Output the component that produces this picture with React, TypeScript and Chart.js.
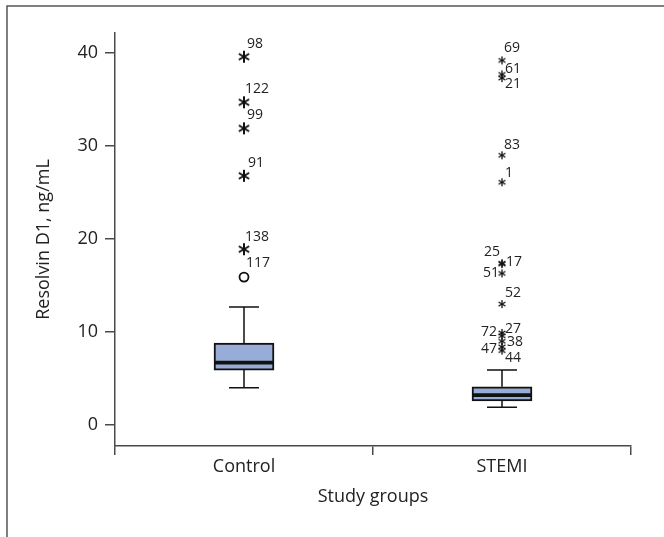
import { useEffect, useRef } from 'react';
import { Chart, registerables } from 'chart.js';

Chart.register(...registerables);

// ---------- data ----------
const categories = ['Control', 'STEMI'];
const whiskerLow = [4.0, 1.9];
const q1 = [5.9, 2.6];
const median = [6.7, 3.2];
const q3 = [8.8, 4.1];
const whiskerHigh = [12.7, 5.9];
const yTickValues = [0, 10, 20, 30, 40];

const controlExtremeIds = ['98', '122', '99', '91', '138'];
const controlExtremeValues = [39.6, 34.7, 31.9, 26.8, 18.9];
const controlOutlierIds = ['117'];
const controlOutlierValues = [15.9];
const stemiExtremeIds = ['69', '61', '21', '83', '1', '25', '17', '51', '52', '27', '72', '38', '47', '44'];
const stemiExtremeValues = [39.2, 37.7, 37.3, 29.0, 26.1, 17.4, 17.3, 16.3, 13.0, 9.9, 9.6, 9.0, 8.4, 8.0];

// ---------- styles ----------
const FONT = "'Open Sans', 'Noto Sans', sans-serif";
const TEXT = '#222';
const AXIS = '#4a4a4a';
const BOX_FILL = '#97acd6';
// label placement: [dx, dy, align]
const controlLabelPlacement: [number, number, CanvasTextAlign][] = [
  [3, -13, 'left'], [1, -13, 'left'], [3, -13, 'left'], [4, -13, 'left'], [1, -12, 'left'],
];
const controlOutlierLabelPlacement: [number, number, CanvasTextAlign][] = [[2, -14, 'left']];
const stemiLabelPlacement: [number, number, CanvasTextAlign][] = [
  [2, -12, 'left'], [3, -5, 'left'], [3, 6, 'left'], [2, -10, 'left'], [3, -9, 'left'],
  [-2, -11, 'right'], [4, -2, 'left'], [-3, 0, 'right'], [3, -11, 'left'], [3, -4, 'left'],
  [-5, -4, 'right'], [5, 1, 'left'], [-5, 2, 'right'], [3, 7, 'left'],
];

function makeAsterisk(size: number, lw: number): HTMLCanvasElement {
  const c = document.createElement('canvas');
  const pad = 2;
  c.width = size + pad * 2;
  c.height = size + pad * 2;
  const ctx = c.getContext('2d')!;
  const cx = c.width / 2;
  const cy = c.height / 2;
  const r = size / 2;
  ctx.strokeStyle = '#111';
  ctx.lineWidth = lw;
  ctx.lineCap = 'butt';
  const angles = [90, 30, 150];
  for (const a of angles) {
    const rad = (a * Math.PI) / 180;
    ctx.beginPath();
    ctx.moveTo(cx - r * Math.cos(rad), cy - r * Math.sin(rad));
    ctx.lineTo(cx + r * Math.cos(rad), cy + r * Math.sin(rad));
    ctx.stroke();
  }
  return c;
}

export default function App() {
  const ref = useRef<HTMLCanvasElement | null>(null);

  useEffect(() => {
    if (!ref.current) return;
    const bigStar = makeAsterisk(12, 2);
    const smallStar = makeAsterisk(8, 1.3);

    const framePlugin = {
      id: 'frame',
      beforeDraw(chart: any) {
        const ctx = chart.ctx;
        ctx.save();
        ctx.fillStyle = '#fff';
        ctx.fillRect(0, 0, chart.width, chart.height);
        ctx.strokeStyle = '#555';
        ctx.lineWidth = 1.5;
        ctx.beginPath();
        ctx.moveTo(7, chart.height);
        ctx.lineTo(7, 6);
        ctx.lineTo(chart.width, 6);
        ctx.stroke();
        ctx.restore();
      },
    };

    const boxPlugin = {
      id: 'boxparts',
      afterDatasetsDraw(chart: any) {
        const ctx = chart.ctx;
        const xs = chart.scales.x;
        const ys = chart.scales.y;
        const meta = chart.getDatasetMeta(0);
        ctx.save();
        ctx.strokeStyle = '#111';
        categories.forEach((_, i) => {
          const x = xs.getPixelForValue(i);
          const bar = meta.data[i];
          const half = bar ? bar.width / 2 : 30;
          const cap = half / 2;
          ctx.lineWidth = 1.5;
          ctx.beginPath();
          ctx.moveTo(x, ys.getPixelForValue(q3[i]));
          ctx.lineTo(x, ys.getPixelForValue(whiskerHigh[i]));
          ctx.moveTo(x, ys.getPixelForValue(q1[i]));
          ctx.lineTo(x, ys.getPixelForValue(whiskerLow[i]));
          ctx.moveTo(x - cap, ys.getPixelForValue(whiskerHigh[i]));
          ctx.lineTo(x + cap, ys.getPixelForValue(whiskerHigh[i]));
          ctx.moveTo(x - cap, ys.getPixelForValue(whiskerLow[i]));
          ctx.lineTo(x + cap, ys.getPixelForValue(whiskerLow[i]));
          ctx.stroke();
          ctx.lineWidth = 3.8;
          ctx.beginPath();
          ctx.moveTo(x - half, ys.getPixelForValue(median[i]));
          ctx.lineTo(x + half, ys.getPixelForValue(median[i]));
          ctx.stroke();
        });
        ctx.restore();
      },
    };

    const labelPlugin = {
      id: 'outlierLabels',
      afterDatasetsDraw(chart: any) {
        const ctx = chart.ctx;
        ctx.save();
        ctx.fillStyle = TEXT;
        ctx.font = `14px ${FONT}`;
        ctx.textBaseline = 'middle';
        chart.data.datasets.forEach((ds: any, di: number) => {
          if (!ds.outlierIds) return;
          const meta = chart.getDatasetMeta(di);
          meta.data.forEach((pt: any, j: number) => {
            const [dx, dy, align] = ds.placement[j];
            ctx.textAlign = align;
            ctx.fillText(ds.outlierIds[j], pt.x + dx, pt.y + dy);
          });
        });
        ctx.restore();
      },
    };

    const pointDs = (cat: string, values: number[], ids: string[], placement: any, style: any, extra: any = {}) => ({
      type: 'line',
      data: values.map((v) => ({ x: cat, y: v })),
      showLine: false,
      pointStyle: style,
      pointRadius: 4,
      pointHoverRadius: 4,
      borderColor: '#111',
      backgroundColor: 'rgba(0,0,0,0)',
      outlierIds: ids,
      placement,
      ...extra,
    });

    const chart = new Chart(ref.current, {
      type: 'bar',
      data: {
        labels: categories,
        datasets: [
          {
            type: 'bar',
            data: categories.map((_, i) => [q1[i], q3[i]]),
            backgroundColor: BOX_FILL,
            borderColor: '#111',
            borderWidth: 2,
            borderSkipped: false,
            barThickness: 60,
          } as any,
          pointDs('Control', controlExtremeValues, controlExtremeIds, controlLabelPlacement, bigStar),
          pointDs('Control', controlOutlierValues, controlOutlierIds, controlOutlierLabelPlacement, 'circle', {
            pointRadius: 4.5,
            pointBorderWidth: 1.8,
          }),
          pointDs('STEMI', stemiExtremeValues, stemiExtremeIds, stemiLabelPlacement, smallStar),
        ],
      },
      options: {
        responsive: false,
        animation: false,
        events: [],
        layout: { padding: { top: 33, right: 33, left: 0, bottom: 0 } },
        plugins: {
          legend: { display: false },
          tooltip: { enabled: false },
        },
        scales: {
          x: {
            type: 'category',
            offset: true,
            grid: {
              display: true,
              offset: true,
              drawOnChartArea: false,
              drawTicks: true,
              tickLength: 9,
              color: AXIS,
              lineWidth: 1.5,
            },
            border: { display: true, color: AXIS, width: 1.5 },
            ticks: { color: TEXT, font: { family: FONT, size: 18 }, padding: 1 },
            title: {
              display: true,
              text: 'Study groups',
              color: TEXT,
              font: { family: FONT, size: 18 },
              padding: { top: 0, bottom: 29 },
            },
            afterFit: (s: any) => {
              s.height = 91;
            },
          },
          y: {
            type: 'linear',
            min: -2.26,
            max: 42.15,
            afterBuildTicks: (s: any) => {
              s.ticks = yTickValues.map((v) => ({ value: v }));
            },
            grid: {
              drawOnChartArea: false,
              drawTicks: true,
              tickLength: 10,
              color: AXIS,
              lineWidth: 1.5,
            },
            border: { display: true, color: AXIS, width: 1.5 },
            ticks: { color: TEXT, font: { family: FONT, size: 18 }, padding: 7 },
            title: {
              display: true,
              text: 'Resolvin D1, ng/mL',
              color: TEXT,
              font: { family: FONT, size: 18 },
              padding: { top: 33, bottom: 0 },
            },
            afterFit: (s: any) => {
              s.width = 115;
            },
          },
        },
      } as any,
      plugins: [framePlugin, boxPlugin, labelPlugin],
    } as any);

    return () => chart.destroy();
  }, []);

  return (
    <div style={{ position: 'fixed', left: 0, top: 0, width: 664, height: 537, background: '#fff' }}>
      <canvas ref={ref} width={664} height={537} style={{ display: 'block', width: 664, height: 537 }} />
    </div>
  );
}
